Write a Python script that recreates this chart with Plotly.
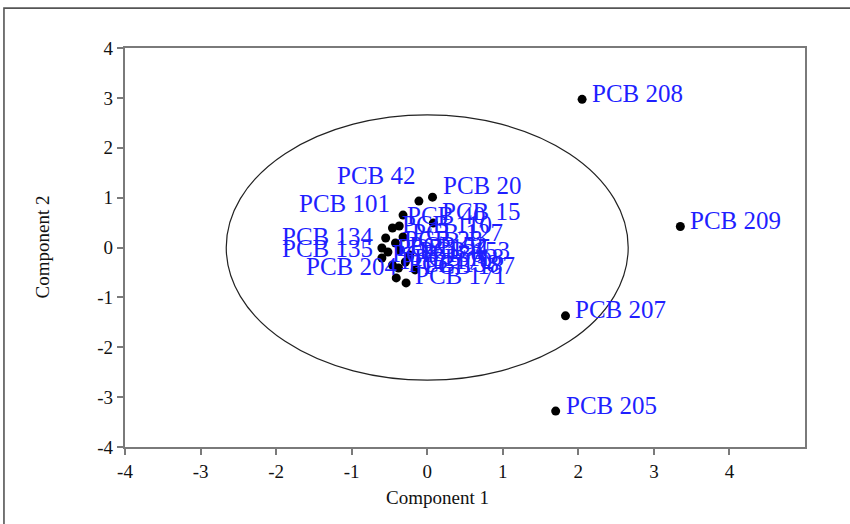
import plotly.graph_objects as go

# ---- data ----
names = ["PCB 208", "PCB 209", "PCB 207", "PCB 205",
         "PCB 20", "PCB 42", "PCB 101", "PCB 15", "PCB 40", "PCB 127",
         "PCB 134", "PCB 135", "PCB 204", "PCB 171",
         "PCB 110", "PCB 180", "PCB 28", "PCB 52", "PCB 118", "PCB 138",
         "PCB 153", "PCB 170", "PCB 187", "PCB 194"]
comp1 = [2.05, 3.35, 1.83, 1.70,
         0.07, -0.11, -0.32, 0.08, -0.37, -0.32,
         -0.55, -0.60, -0.41, -0.28,
         -0.46, -0.60, -0.42, -0.36, -0.29, -0.38,
         -0.23, -0.46, -0.16, -0.52]
comp2 = [2.97, 0.42, -1.37, -3.28,
         1.01, 0.93, 0.65, 0.49, 0.43, 0.21,
         0.19, -0.01, -0.61, -0.71,
         0.39, -0.21, 0.09, -0.05, -0.29, -0.41,
         -0.15, -0.35, -0.45, -0.09]

# label placement (pixel offsets from the point, and anchor side)
lab_dx = [8, 8, 8, 8,
          8, -1, -11, 7, 6, 7,
          -10, -7, 4, 7,
          8, 8, 7, 7, 7, 7,
          7, 7, 7, 7]
lab_dy = [-6, -6, -6, -6,
          -12, -26, -12, -12, -11, -5,
          -2, 0, -11, -7,
          -4, -4, -4, -4, -4, -4,
          -4, -4, -4, -4]
lab_side = ["left"] * 4 + ["left", "right", "right", "left", "left", "left",
                           "right", "right", "right", "left"] + ["left"] * 10

circle_r = 2.66

x_ticks = [-4, -3, -2, -1, 0, 1, 2, 3, 4]
y_ticks = [-4, -3, -2, -1, 0, 1, 2, 3, 4]

SERIF = "Liberation Serif"

fig = go.Figure()
fig.add_trace(go.Scatter(
    x=comp1, y=comp2, mode="markers",
    marker=dict(color="black", size=9),
    hoverinfo="text", text=names, showlegend=False,
))

annotations = []
for n, x, y, dx, dy, side in zip(names, comp1, comp2, lab_dx, lab_dy, lab_side):
    annotations.append(dict(
        x=x, y=y, xref="x", yref="y", text=n, showarrow=True,
        arrowcolor="rgba(0,0,0,0)", ax=dx, ay=dy, axref="pixel", ayref="pixel",
        xanchor=side, yanchor="middle",
        font=dict(family=SERIF, size=25, color="#1f1fff"),
    ))
annotations.append(dict(
    x=0.13, y=0, xref="x", yref="paper", yshift=-50, text="Component 1",
    showarrow=False, xanchor="center", yanchor="middle",
    font=dict(family=SERIF, size=19, color="#111111"),
))
annotations.append(dict(
    x=0, y=0, xref="paper", yref="y", xshift=-83, text="Component 2",
    showarrow=False, textangle=-90, xanchor="center", yanchor="middle",
    font=dict(family=SERIF, size=19, color="#111111"),
))

fig.add_shape(type="circle", xref="x", yref="y",
              x0=-circle_r, x1=circle_r, y0=-circle_r, y1=circle_r,
              line=dict(color="#222222", width=1.2), layer="below")

fig.add_shape(type="rect", xref="paper", yref="paper",
              x0=-0.178, x1=1.08, y0=-0.22, y1=1.100,
              line=dict(color="#555555", width=1.6))

tick_font = dict(family=SERIF, size=19, color="#111111")
axis_style = dict(
    showgrid=False, zeroline=False, showline=True, mirror=True,
    linecolor="#7a7a7a", linewidth=2.2, tickfont=tick_font,
    ticks="outside", ticklen=6, tickwidth=2, tickcolor="#7a7a7a",
    tickmode="array",
)

fig.update_layout(
    width=850, height=524,
    margin=dict(l=125, r=45, t=48, b=77),
    paper_bgcolor="white", plot_bgcolor="white",
    font=dict(family=SERIF, size=19, color="#111111"),
    annotations=annotations,
    xaxis=dict(range=[-4, 5], tickvals=x_ticks,
               ticktext=[str(v) for v in x_ticks], **axis_style),
    yaxis=dict(range=[-4, 4], tickvals=y_ticks,
               ticktext=[str(v) for v in y_ticks], **axis_style),
)

fig.write_html("out.html")
